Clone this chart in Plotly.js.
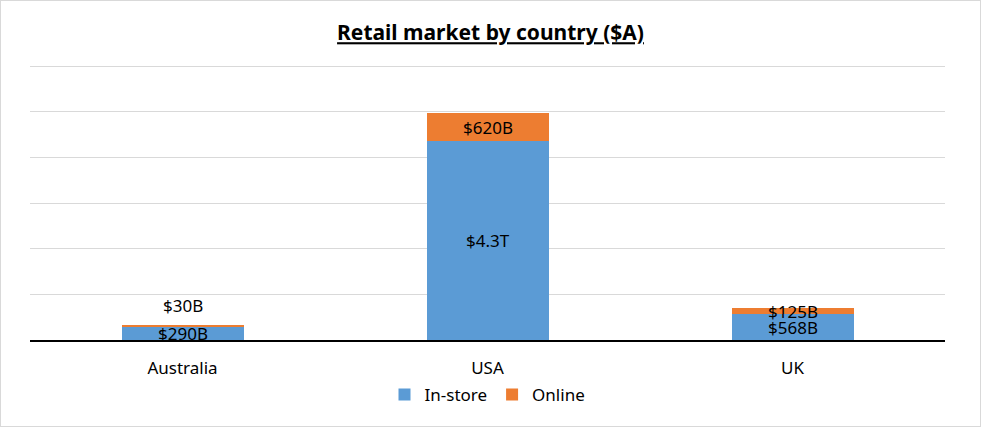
<!DOCTYPE html>
<html>
<head>
<meta charset="utf-8">
<script src="https://cdn.plot.ly/plotly-3.0.1.min.js"></script>
<style>
html,body{margin:0;padding:0;background:#fff;}
#chart{width:981px;height:427px;box-sizing:border-box;border:1px solid #d9d9d9;}
</style>
</head>
<body>
<div id="chart"></div>
<script>
const categories = ["Australia", "USA", "UK"];
const inStore = [290, 4360, 568];
const online = [30, 620, 125];
const inStoreLabels = ["$290B", "$4.3T", "$568B"];
const onlineLabels = ["$30B", "$620B", "$125B"];

const FONT = "Noto Sans, Open Sans, sans-serif";

const traces = [
  {type: "bar", name: "In-store", x: categories, y: inStore,
   marker: {color: "#5b9bd5"}, hoverinfo: "skip"},
  {type: "bar", name: "Online", x: categories, y: online,
   marker: {color: "#ed7d31"}, hoverinfo: "skip"}
];

const annotations = [];
categories.forEach((c, i) => {
  annotations.push({x: c, y: inStore[i] / 2, text: inStoreLabels[i], showarrow: false,
    font: {family: FONT, size: 17, color: "#000"}, xref: "x", yref: "y"});
  const small = online[i] < 60;
  annotations.push({x: c, y: small ? inStore[i] + online[i] : inStore[i] + online[i] / 2,
    text: onlineLabels[i], showarrow: false, yanchor: small ? "bottom" : "middle",
    yshift: small ? 6 : 0,
    font: {family: FONT, size: 17, color: "#000"}, xref: "x", yref: "y"});
});

const layout = {
  width: 979, height: 425,
  margin: {l: 29, r: 35, t: 64, b: 86},
  paper_bgcolor: "#fff", plot_bgcolor: "#fff",
  barmode: "stack", bargap: 0.6,
  font: {family: FONT, size: 17, color: "#000"},
  title: {text: "<b><u>Retail market by country ($A)</u></b>", x: 0.5, xanchor: "center",
          y: 0.925, yanchor: "middle", font: {family: FONT, size: 21, color: "#000"}},
  xaxis: {showline: true, linecolor: "#000", linewidth: 2, ticks: "", showgrid: false,
          ticklabelstandoff: 12,
          tickfont: {family: FONT, size: 17, color: "#000"}, fixedrange: true},
  yaxis: {range: [0, 6030], tickvals: [1000, 2000, 3000, 4000, 5000, 6000],
          showticklabels: false, gridcolor: "#d9d9d9",
          gridwidth: 1, zeroline: false, ticks: "", fixedrange: true},
  legend: {orientation: "h", x: 0.5, xanchor: "center", y: -0.2, yanchor: "middle",
           traceorder: "normal",
           font: {family: FONT, size: 17, color: "#000"}, itemwidth: 30},
  annotations: annotations,
  showlegend: true
};

Plotly.newPlot("chart", traces, layout, {displayModeBar: false, staticPlot: true});
</script>
</body>
</html>
